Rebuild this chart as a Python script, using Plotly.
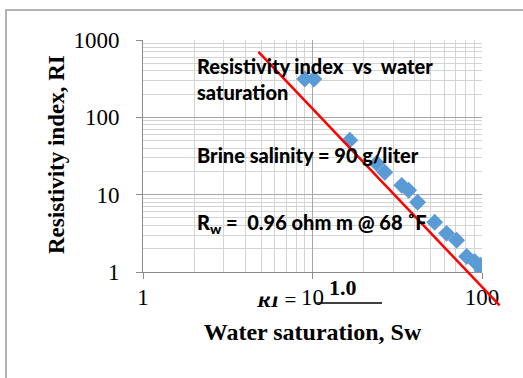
import math
import plotly.graph_objects as go

# Measured water saturation (%) and resistivity index
sw = [9.0, 10.2, 16.6, 23.9, 26.7, 33.6, 36.9, 41.7, 52.6, 61.8, 70.8, 81.2, 90.4, 98.1, 100.0]
ri = [313, 313, 50.7, 25.5, 19.5, 13.2, 11.4, 7.97, 4.39, 3.16, 2.57, 1.59, 1.37, 1.22, 1.05]

# End points of the fitted power-law trend line
fit_sw = [4.8, 127.0]
fit_ri = [700.0, 0.37]

x_ticks = [1, 10, 100]
x_ticklabels = ["1", "10", "100"]
y_ticks = [1, 10, 100, 1000]
y_ticklabels = ["1", "10", "100", "1000"]

X_RANGE = [0, 2]   # log10 range of the x axis
Y_RANGE = [0, 3]   # log10 range of the y axis

W, H = 523, 378
ML, MR, MT, MB = 143, 41, 40, 106


def xpaper(v):
    return (math.log10(v) - X_RANGE[0]) / (X_RANGE[1] - X_RANGE[0])


def ypaper(v):
    return (math.log10(v) - Y_RANGE[0]) / (Y_RANGE[1] - Y_RANGE[0])


def px2paper_x(px):
    return (px - ML) / (W - ML - MR)


def py2paper_y(py):
    return (H - MB - py) / (H - MT - MB)


minor_vals = [m * 10 ** d for d in range(0, 3) for m in range(2, 10)]

fig = go.Figure()
fig.add_trace(go.Scatter(
    x=sw, y=ri, mode="markers",
    marker=dict(symbol="diamond", size=13, color="#5B9BD5", line=dict(width=0)),
    showlegend=False,
))

serif = "Liberation Serif"
sans = "Lato"

axis_common = dict(
    type="log",
    showline=True, linecolor="#8c8c8c", linewidth=1,
    ticks="outside", ticklen=6, tickcolor="#8c8c8c", tickwidth=1,
    showgrid=True, gridcolor="#a6a6a6", gridwidth=1,
    tickfont=dict(family=serif, size=23, color="black"),
    zeroline=False,
)

fig.update_xaxes(
    **axis_common, range=X_RANGE, tickmode="array", tickvals=x_ticks, ticktext=x_ticklabels,
    minor=dict(tickmode="array", tickvals=minor_vals, showgrid=True, gridcolor="#d4d4d4", ticks=""),
    ticklabelstandoff=-2,
    title=dict(text="<b>Water saturation, Sw</b>", font=dict(family=serif, size=24, color="black"),
               standoff=14),
)
fig.update_yaxes(
    **axis_common, range=Y_RANGE, tickmode="array", tickvals=y_ticks, ticktext=y_ticklabels,
    minor=dict(tickmode="array", tickvals=minor_vals, showgrid=True, gridcolor="#d4d4d4", ticks=""),
    ticklabelstandoff=12,
)

shapes = [
    # outer chart frame
    dict(type="rect", xref="paper", yref="paper",
         x0=px2paper_x(6), x1=px2paper_x(560), y0=py2paper_y(420), y1=py2paper_y(10),
         line=dict(color="#9a9a9a", width=1.5), fillcolor="rgba(0,0,0,0)", layer="below"),
    # fitted trend line
    dict(type="line", xref="paper", yref="paper",
         x0=xpaper(fit_sw[0]), y0=ypaper(fit_ri[0]),
         x1=xpaper(fit_sw[1]), y1=ypaper(fit_ri[1]),
         line=dict(color="#ff0000", width=2.5), layer="above"),
    # fraction bar of the equation
    dict(type="line", xref="paper", yref="paper",
         x0=px2paper_x(315), x1=px2paper_x(382), y0=py2paper_y(303), y1=py2paper_y(303),
         line=dict(color="black", width=1.5)),
]

txt = dict(family=sans, size=20, color="black", weight=900)
annotations = [
    # y-axis title
    dict(text="<b>Resistivity index, RI</b>", textangle=-90,
         x=px2paper_x(56), y=py2paper_y(155), xanchor="center", yanchor="middle",
         font=dict(family=serif, size=23, color="black")),
    dict(text="Resistivity index\u00a0\u00a0vs\u00a0\u00a0water<br>saturation",
         x=px2paper_x(195), y=py2paper_y(79), xanchor="left", yanchor="middle", align="left",
         font=txt),
    dict(text="Brine salinity = 90 g/liter",
         x=px2paper_x(195), y=py2paper_y(155), xanchor="left", yanchor="middle", font=txt),
    dict(text="R<sub>w</sub> =\u00a0 0.96 ohm m @ 68 \u02daF",
         x=px2paper_x(195), y=py2paper_y(223), xanchor="left", yanchor="middle", font=txt),
    # equation: RI = 10^(1.0) ...
    dict(text="<b><i>RI</i></b> =",
         x=px2paper_x(254), y=py2paper_y(300), xanchor="left", yanchor="middle",
         font=dict(family=serif, size=21, color="black")),
    dict(text=" ", width=50, height=14, bgcolor="white", borderpad=0,
         x=px2paper_x(250), y=py2paper_y(297), xanchor="left", yanchor="bottom"),
    dict(text="<b>1.0</b>",
         x=px2paper_x(343), y=py2paper_y(287), xanchor="center", yanchor="middle",
         font=dict(family=serif, size=22, color="black")),
]
for a in annotations:
    a.setdefault("showarrow", False)
    a["xref"] = "paper"
    a["yref"] = "paper"

fig.update_layout(
    width=W, height=H,
    margin=dict(l=ML, r=MR, t=MT, b=MB),
    paper_bgcolor="white", plot_bgcolor="white",
    shapes=shapes, annotations=annotations,
    showlegend=False,
)

fig.write_html("out.html")
